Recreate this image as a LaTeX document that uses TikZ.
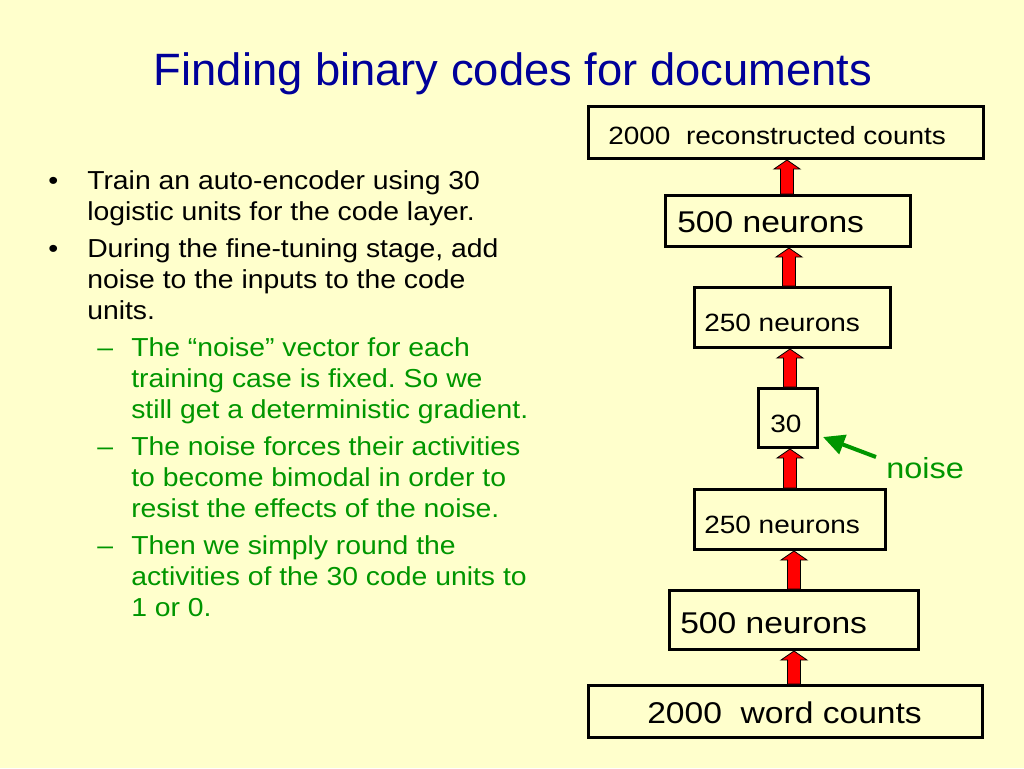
\documentclass[tikz,border=0pt]{standalone}
\usepackage{fontspec}
\setmainfont{Liberation Sans}
\newfontfamily\widefont[FakeStretch=1.12]{Liberation Sans}
\newfontfamily\bodyfont[FakeStretch=1.09]{Liberation Sans}
\usetikzlibrary{calc,arrows.meta}
\frenchspacing
\definecolor{bg}{RGB}{255,255,204}
\definecolor{titleblue}{RGB}{0,0,153}
\definecolor{txtgreen}{RGB}{0,150,0}
\newcommand\pxl[1]{#1*0.75pt}
\newcommand\uparr[3]{%
  \path[redarrow] let \p1=(#2.north), \p2=(#3.south), \p3=(#1,0) in
    (\x3-4.9pt,\y1) -- (\x3-4.9pt,\y2-6.75pt) -- (\x3-9.75pt,\y2-6.75pt) -- (\x3,\y2)
    -- (\x3+9.75pt,\y2-6.75pt) -- (\x3+4.9pt,\y2-6.75pt) -- (\x3+4.9pt,\y1) -- cycle;}
\tikzset{
  layerbox/.style={draw=black, line width=2.25pt, rectangle, inner sep=0pt},
  smalllbl/.style={anchor=base west, inner sep=0pt, font=\widefont\fontsize{18.75}{22}\selectfont},
  biglbl/.style={anchor=base west, inner sep=0pt, font=\widefont\fontsize{22.5}{26}\selectfont},
  body/.style={anchor=base west, inner sep=0pt, font=\bodyfont\frenchspacing\fontsize{19.5}{23.25}\selectfont},
  redarrow/.style={fill=red, draw=black, line width=0.6pt, line join=miter},
  noisearrow/.style={draw=txtgreen, line width=3pt, -{Triangle[length=16pt,width=15pt]}},
}
\begin{document}
\begin{tikzpicture}[x=0.75pt,y=-0.75pt]
\useasboundingbox (0,0) rectangle (1024,768);
\fill[bg] (0,0) rectangle (1024,768);

% title
\node[anchor=base, inner sep=0pt, text=titleblue, font=\fontsize{34}{40}\selectfont] (title) at (513,85) {Finding binary codes for documents};

% left text
\node[body] (m1) at (48,189) {•};
\node[body] (t1) at (87,189) {\begin{tabular}[t]{@{}l@{}}Train an auto-encoder using 30\\logistic units for the code layer.\end{tabular}};
\node[body] (m2) at (48,257) {•};
\node[body] (t2) at (87,257) {\begin{tabular}[t]{@{}l@{}}During the fine-tuning stage, add\\noise to the inputs to the code\\units.\end{tabular}};
\node[body, text=txtgreen] (m3) at (97,356) {–};
\node[body, text=txtgreen] (t3) at (131,356) {\begin{tabular}[t]{@{}l@{}}The “noise” vector for each\\training case is fixed. So we\\still get a deterministic gradient.\end{tabular}};
\node[body, text=txtgreen] (m4) at (97,455) {–};
\node[body, text=txtgreen] (t4) at (131,455) {\begin{tabular}[t]{@{}l@{}}The noise forces their activities\\to become bimodal in order to\\resist the effects of the noise.\end{tabular}};
\node[body, text=txtgreen] (m5) at (97,554) {–};
\node[body, text=txtgreen] (t5) at (131,554) {\begin{tabular}[t]{@{}l@{}}Then we simply round the\\activities of the 30 code units to\\1 or 0.\end{tabular}};

% boxes
\node[layerbox, minimum width=\pxl{395}, minimum height=\pxl{52}] (b1) at (786,132.5) {};
\node[layerbox, minimum width=\pxl{245}, minimum height=\pxl{51}] (b2) at (788,221) {};
\node[layerbox, minimum width=\pxl{196}, minimum height=\pxl{60}] (b3) at (792.5,317.5) {};
\node[layerbox, minimum width=\pxl{59}, minimum height=\pxl{59}] (b4) at (788,418) {};
\node[layerbox, minimum width=\pxl{191}, minimum height=\pxl{60}] (b5) at (790,519.5) {};
\node[layerbox, minimum width=\pxl{249}, minimum height=\pxl{59}] (b6) at (794,620) {};
\node[layerbox, minimum width=\pxl{394}, minimum height=\pxl{52}] (b7) at (785.5,711.5) {};

% box labels
\node[smalllbl] (l1) at (608,144) {2000\ \ reconstructed counts};
\node[biglbl] (l2) at (677,232) {500 neurons};
\node[smalllbl] (l3) at (704,331) {250 neurons};
\node[smalllbl] (l4) at (770,432) {30};
\node[smalllbl] (l5) at (704,533) {250 neurons};
\node[biglbl] (l6) at (680,633) {500 neurons};
\node[biglbl] (l7) at (647,723) {2000\ \ word counts};

% red arrows
\uparr{787}{b2}{b1}
\uparr{789}{b3}{b2}
\uparr{790}{b4}{b3}
\uparr{790}{b5}{b4}
\uparr{794}{b6}{b5}
\uparr{794}{b7}{b6}

% noise
\node[anchor=base west, inner sep=0pt, text=txtgreen, font=\widefont\fontsize{21.75}{26}\selectfont] (noise) at (886,478) {noise};
\coordinate (ntail) at (876,457);
\coordinate (ntip) at (823,437);
\draw[noisearrow] (ntail) -- (ntip);
\end{tikzpicture}
\end{document}
